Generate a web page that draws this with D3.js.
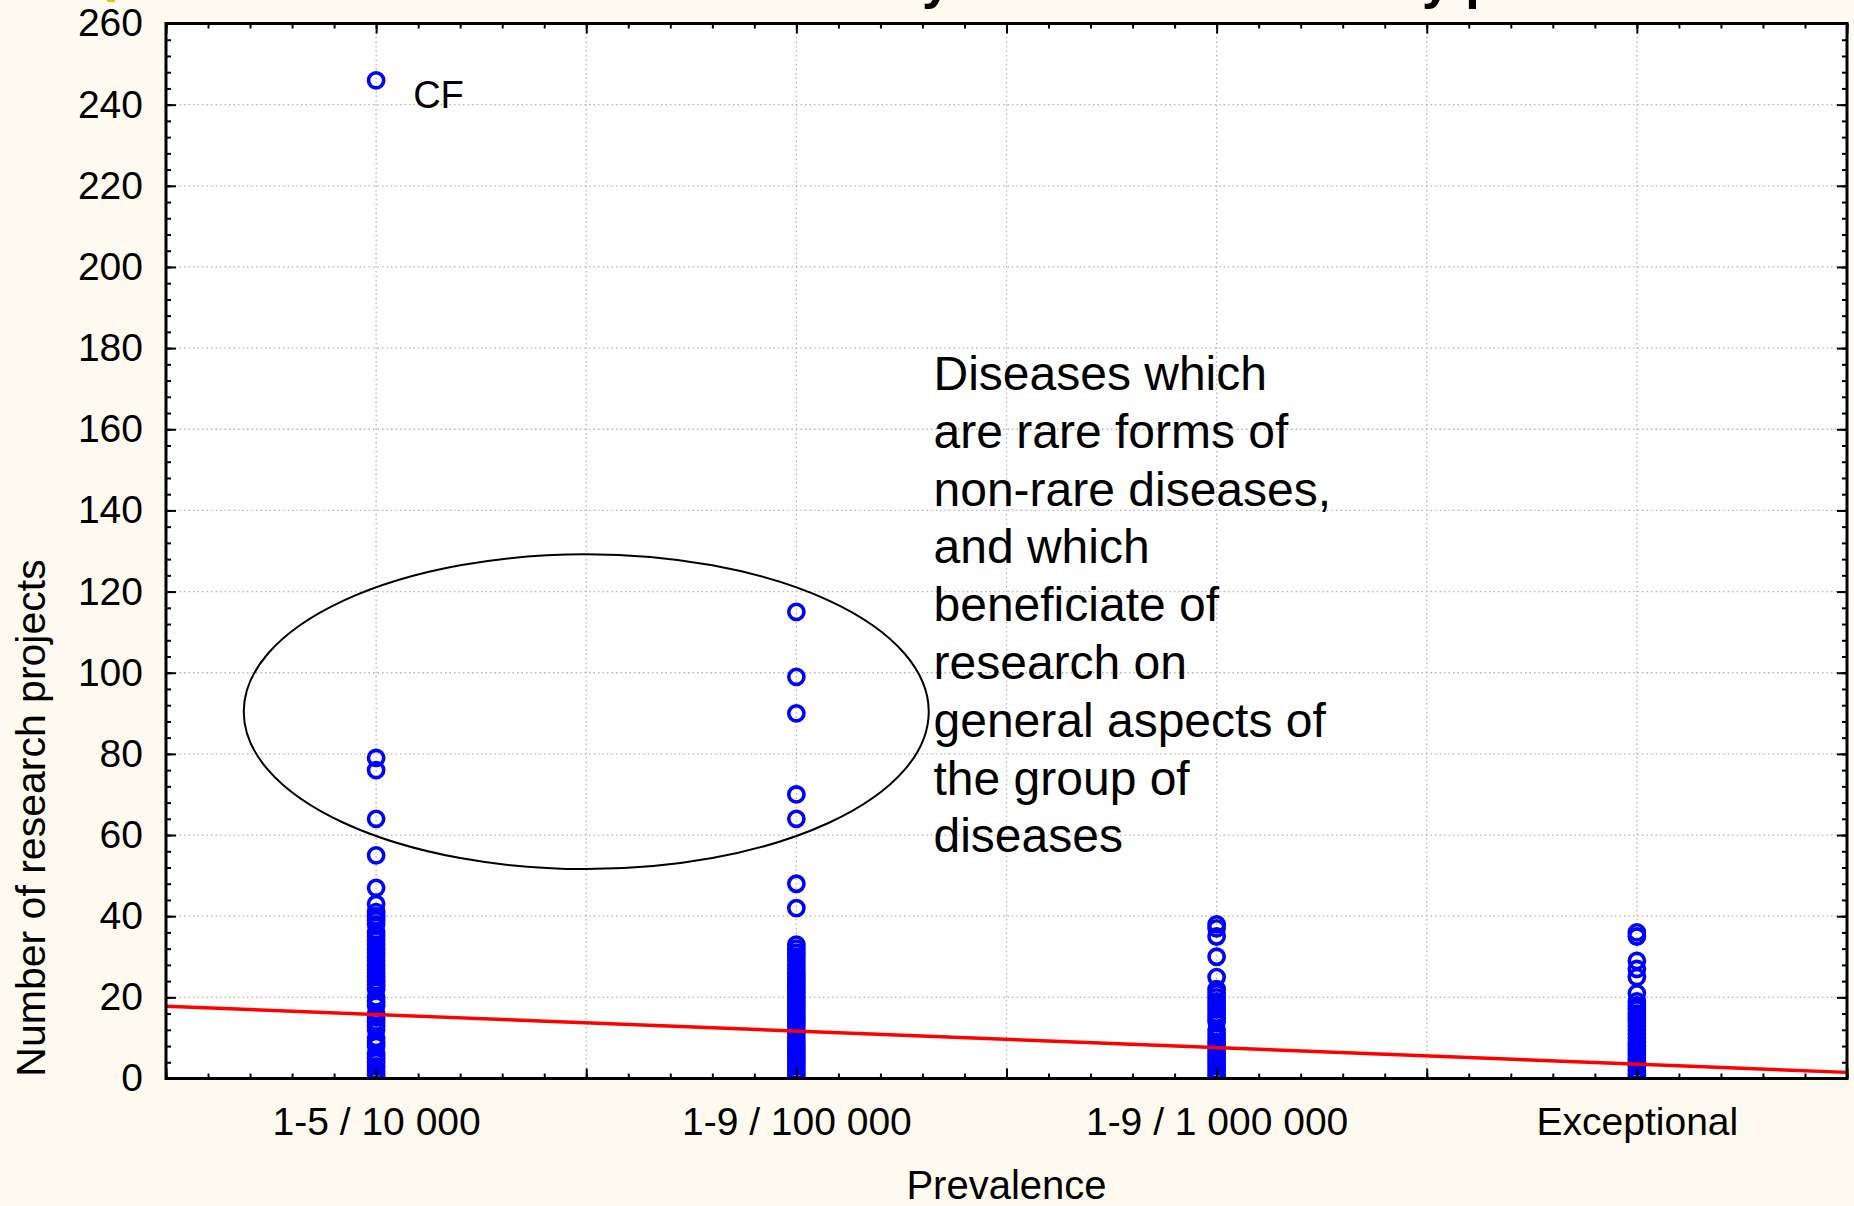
<!DOCTYPE html>
<html>
<head>
<meta charset="utf-8">
<script src="https://cdn.jsdelivr.net/npm/d3@7"></script>
<style>
    html, body { margin: 0; padding: 0; background: #fffaef; }
    svg { display: block; }
</style>
</head>
<body>
<svg id="chart"></svg>
<script>
// prevalence classes (x = 1..4)
const categories = ['1-5 / 10 000', '1-9 / 100 000', '1-9 / 1 000 000', 'Exceptional'];

// number of research projects per disease
const projects10000 = [246, 79, 76, 64, 55, 47, 43, 41, 40, 39, 38, 36, 35, 34, 33, 32, 31, 30, 29, 28,
                       27, 26, 25, 24, 23, 22, 20, 19, 18, 16, 15, 14, 13, 12, 10, 9, 8, 6, 5, 4, 3, 2, 1, 0];
const projects100000 = [115, 99, 90, 70, 64, 48, 42, 33, 32, 31, 30, 29, 28, 27, 26, 25, 24, 23, 22, 21,
                        20, 19, 18, 17, 16, 15, 14, 13, 12, 11, 10, 9, 8, 7, 6, 5, 4, 3, 2, 1, 0];
const projects1000000 = [38, 37, 35, 30, 25, 22, 21, 20, 19, 18, 17, 16, 15, 14, 12, 11, 10, 9, 8, 7,
                         6, 5, 4, 3, 2, 1, 0];
const projectsExceptional = [36, 35, 29, 27, 25, 21, 19, 18, 17, 16, 15, 14, 13, 12, 11, 10, 9, 8, 7, 6,
                             5, 4, 3, 2, 1, 0];

// linear fit (red line)
const fitX = [0.5, 4.5];
const fitY = [17.8, 1.5];

// ticks
const xMajorTicks = [0.5, 1, 1.5, 2, 2.5, 3, 3.5, 4, 4.5];
const yMajorTicks = [0, 20, 40, 60, 80, 100, 120, 140, 160, 180, 200, 220, 240, 260];

// annotations
const outlierLabel = { cat: 1, value: 246, text: 'CF' };
const ellipseCenter = [1.5, 90.4];
const ellipseRadius = [0.815, 38.8];
const noteLines = ['Diseases which', 'are rare forms of', 'non-rare diseases,', 'and which',
                   'beneficiate of', 'research on', 'general aspects of', 'the group of', 'diseases'];

class Chart {
    constructor (selector) {
        this.w = 1854;
        this.h = 1206;
        this.box = { left: 166, right: 1847, top: 23.5, bottom: 1078.5 };
        this.font = '"Liberation Sans", Arial, Helvetica, sans-serif';

        this.svg = d3.select(selector)
            .attr('width', this.w)
            .attr('height', this.h);

        this.x = d3.scaleLinear().domain([0.5, 4.5]).range([this.box.left, this.box.right]);
        this.y = d3.scaleLinear().domain([0, 260]).range([this.box.bottom, this.box.top]);
    }
    draw () {
        this.drawBackground();
        this.drawGrid();
        this.drawEllipse();
        this.drawPoints();
        this.drawFit();
        this.drawAxes();
        this.drawTexts();
    }
    drawBackground () {
        let box = this.box;

        this.svg.append('rect')
            .attr('width', this.w).attr('height', this.h)
            .attr('fill', '#fffaef');

        // tiny yellow mark at top left
        this.svg.append('rect')
            .attr('x', 107).attr('y', 0).attr('width', 8).attr('height', 2)
            .attr('fill', '#f2c200');

        this.svg.append('rect')
            .attr('x', box.left).attr('y', box.top)
            .attr('width', box.right - box.left).attr('height', box.bottom - box.top)
            .attr('fill', '#ffffff');

        this.svg.append('clipPath').attr('id', 'plot-clip')
            .append('rect')
            .attr('x', box.left).attr('y', box.top)
            .attr('width', box.right - box.left).attr('height', box.bottom - box.top);
    }
    drawGrid () {
        let box = this.box;
        let g = this.svg.append('g').attr('class', 'grid');

        g.selectAll('line.gx')
            .data(xMajorTicks.slice(1, -1))
            .enter()
            .append('line')
            .attr('class', 'gx')
            .attr('x1', (d) => { return this.x(d); })
            .attr('x2', (d) => { return this.x(d); })
            .attr('y1', box.top)
            .attr('y2', box.bottom);

        g.selectAll('line.gy')
            .data(yMajorTicks.slice(1, -1))
            .enter()
            .append('line')
            .attr('class', 'gy')
            .attr('x1', box.left)
            .attr('x2', box.right)
            .attr('y1', (d) => { return this.y(d); })
            .attr('y2', (d) => { return this.y(d); });

        g.selectAll('line')
            .attr('stroke', '#b4b4b4')
            .attr('stroke-width', 1.3)
            .attr('stroke-dasharray', '1.5,3');
    }
    drawEllipse () {
        let cx = this.x(ellipseCenter[0]);
        let cy = this.y(ellipseCenter[1]);

        this.svg.append('ellipse')
            .attr('cx', cx)
            .attr('cy', cy)
            .attr('rx', this.x(ellipseCenter[0] + ellipseRadius[0]) - cx)
            .attr('ry', cy - this.y(ellipseCenter[1] + ellipseRadius[1]))
            .attr('fill', 'none')
            .attr('stroke', '#000')
            .attr('stroke-width', 2);
    }
    drawPoints () {
        let series = [projects10000, projects100000, projects1000000, projectsExceptional];
        let points = [];

        series.forEach((list, i) => {
            for (let v of list)
                points.push({ cat: i + 1, value: v });
        });

        this.svg.append('g')
            .attr('clip-path', 'url(#plot-clip)')
            .selectAll('circle')
            .data(points)
            .enter()
            .append('circle')
            .attr('cx', (d) => { return this.x(d.cat); })
            .attr('cy', (d) => { return this.y(d.value); })
            .attr('r', 7.6)
            .attr('fill', 'none')
            .attr('stroke', '#0000ff')
            .attr('stroke-width', 3.6);
    }
    drawFit () {
        let line = d3.line()
            .x((d) => { return this.x(d[0]); })
            .y((d) => { return this.y(d[1]); });

        this.svg.append('path')
            .datum(d3.zip(fitX, fitY))
            .attr('d', line)
            .attr('fill', 'none')
            .attr('stroke', '#ff0000')
            .attr('stroke-width', 3.4);
    }
    styleAxis (g) {
        g.select('.domain').remove();
        g.selectAll('.tick line').attr('stroke', '#000').attr('stroke-width', 2);
        g.selectAll('.tick text')
            .attr('fill', '#000')
            .style('font-family', this.font)
            .style('font-size', '39px');
    }
    drawAxes () {
        let box = this.box;
        let xMinor = d3.range(5, 46).map((d) => { return d / 10; });
        let yMinor = d3.range(0, 261, 4);

        let catName = (d) => {
            return Number.isInteger(d) ? categories[d - 1] : '';
        };

        // left
        this.svg.append('g')
            .attr('transform', `translate(${box.left},0)`)
            .call(d3.axisLeft(this.y).tickValues(yMinor).tickSize(-5).tickFormat(''))
            .call((g) => { this.styleAxis(g); });
        this.svg.append('g')
            .attr('transform', `translate(${box.left},0)`)
            .call(d3.axisLeft(this.y).tickValues(yMajorTicks).tickSize(-10).tickPadding(23))
            .call((g) => { this.styleAxis(g); });

        // right
        this.svg.append('g')
            .attr('transform', `translate(${box.right},0)`)
            .call(d3.axisRight(this.y).tickValues(yMinor).tickSize(-5).tickFormat(''))
            .call((g) => { this.styleAxis(g); });
        this.svg.append('g')
            .attr('transform', `translate(${box.right},0)`)
            .call(d3.axisRight(this.y).tickValues(yMajorTicks).tickSize(-10).tickFormat(''))
            .call((g) => { this.styleAxis(g); });

        // bottom
        this.svg.append('g')
            .attr('transform', `translate(0,${box.bottom})`)
            .call(d3.axisBottom(this.x).tickValues(xMinor).tickSize(-5).tickFormat(''))
            .call((g) => { this.styleAxis(g); });
        this.svg.append('g')
            .attr('transform', `translate(0,${box.bottom})`)
            .call(d3.axisBottom(this.x).tickValues(xMajorTicks).tickSize(-10).tickPadding(29).tickFormat(catName))
            .call((g) => { this.styleAxis(g); });

        // top
        this.svg.append('g')
            .attr('transform', `translate(0,${box.top})`)
            .call(d3.axisTop(this.x).tickValues(xMinor).tickSize(-5).tickFormat(''))
            .call((g) => { this.styleAxis(g); });
        this.svg.append('g')
            .attr('transform', `translate(0,${box.top})`)
            .call(d3.axisTop(this.x).tickValues(xMajorTicks).tickSize(-10).tickFormat(''))
            .call((g) => { this.styleAxis(g); });

        // frame
        this.svg.append('rect')
            .attr('x', box.left).attr('y', box.top)
            .attr('width', box.right - box.left).attr('height', box.bottom - box.top)
            .attr('fill', 'none')
            .attr('stroke', '#000')
            .attr('stroke-width', 3);
    }
    drawTexts () {
        let font = this.font;

        // title, mostly above the picture
        this.svg.append('text')
            .attr('x', 523).attr('y', -2)
            .style('font-family', font).style('font-size', '52px').style('font-weight', 'bold')
            .text('Research activity on rare diseases by prevalence');

        this.svg.append('text')
            .attr('transform', 'translate(45,818) rotate(-90)')
            .attr('text-anchor', 'middle')
            .style('font-family', font).style('font-size', '41px')
            .text('Number of research projects');

        this.svg.append('text')
            .attr('x', this.x(2.5)).attr('y', 1199)
            .attr('text-anchor', 'middle')
            .style('font-family', font).style('font-size', '40px')
            .text('Prevalence');

        this.svg.append('text')
            .attr('x', this.x(outlierLabel.cat) + 37)
            .attr('y', this.y(outlierLabel.value) + 28)
            .style('font-family', font).style('font-size', '38px')
            .text(outlierLabel.text);

        this.svg.append('g')
            .selectAll('text')
            .data(noteLines)
            .enter()
            .append('text')
            .attr('x', 933.5)
            .attr('y', (d, i) => { return 390 + i * 57.8; })
            .style('font-family', font).style('font-size', '48px')
            .text((d) => { return d; });
    }
}

new Chart('#chart').draw();
</script>
</body>
</html>
